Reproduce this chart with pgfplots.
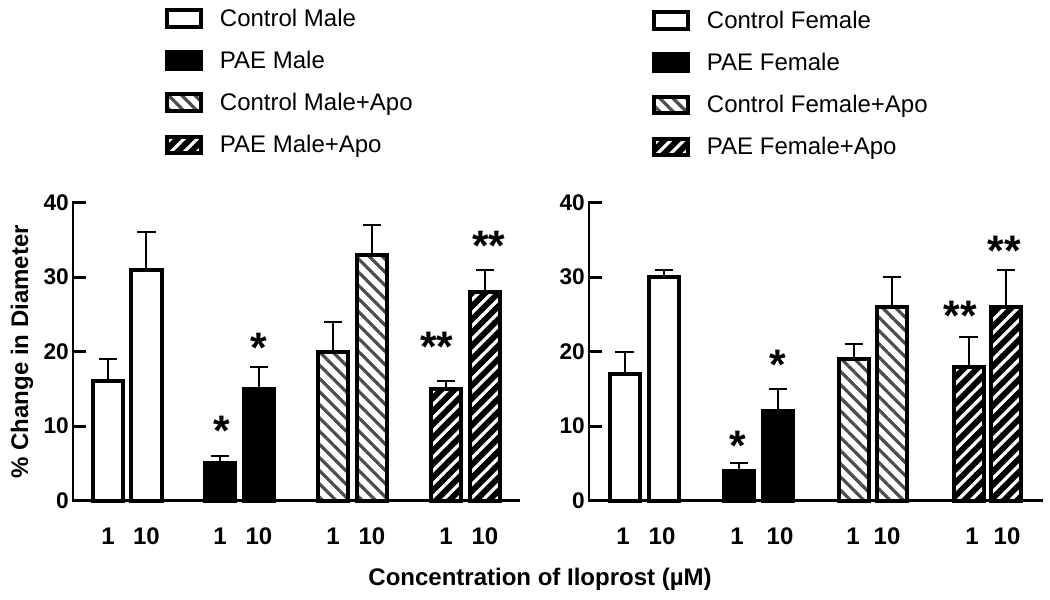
\documentclass[border=0pt]{standalone}
\usepackage{fontspec}
\setmainfont{Liberation Sans}
\usepackage{pgfplots}
\pgfplotsset{compat=1.18}
\usetikzlibrary{patterns.meta}

\tikzset{sigstar/.style={font=\fontsize{32}{32}\selectfont\bfseries, anchor=base, inner sep=0pt}}

\pgfplotsset{
  panel/.style={
    scale only axis, height=223.5pt, ymin=0, ymax=40,
    axis x line=bottom, axis y line=left,
    axis line style={-, line width=2.2pt, line cap=rect},
    ytick={0,10,20,30,40},
    ytick style={line width=2.2pt, black},
    tick align=inside, major tick length=10pt,
    xtick style={draw=none},
    yticklabel style={font=\fontsize{17}{17}\selectfont\bfseries, inner sep=0pt, xshift=-3pt},
    xticklabel style={font=\fontsize{18}{18}\selectfont\bfseries, anchor=center, yshift=-27pt},
    /pgf/number format/assume math mode=true,
    xticklabels={1,10,1,10,1,10,1,10},
    clip=false,
    legend cell align=left,
    legend style={draw=none, fill=none, inner sep=0pt, anchor=north west, row sep=16pt,
      font=\fontsize{18}{18}\selectfont, nodes={inner sep=0pt}},
  },
  bar base/.style={ybar, bar width=30, bar shift=0pt, draw=black, line width=3pt,
    legend image code/.code={\draw[##1] (0pt,-6.3pt) rectangle (25pt,6.3pt); \path (38pt,0pt);},
    /pgfplots/error bars/y dir=plus, /pgfplots/error bars/y explicit,
    /pgfplots/error bars/error bar style={line width=1.5pt, black},
    /pgfplots/error bars/error mark options={rotate=90, mark size=7pt, line width=1.5pt, black}},
  ctrl/.style={bar base, fill=white},
  pae/.style={bar base, fill=black},
  ctrlapo/.style={bar base, pattern={Lines[angle=-45,distance=7pt,line width=2.4pt]}, pattern color=black!70},
  paeapo/.style={bar base, preaction={fill=black}, pattern={Lines[angle=45,distance=7pt,line width=2.4pt]}, pattern color=white},
}

\begin{document}
\begin{tikzpicture}
\useasboundingbox (0,0) rectangle (787.5pt,-450pt);

% male panel
\begin{axis}[panel, at={(54.75pt,-375.5pt)}, anchor=south west,
  width=334.5pt, xmin=73, xmax=519,
  xtick={108,146.5,220,259,333,372,446,485},
  legend style={at={(axis description cs:0.2063,1.6534)}},
  xlabel={Concentration of Iloprost (µM)},
  xlabel style={at={(axis description cs:1.0471,-0.2862)}, anchor=base, font=\fontsize{18}{18}\selectfont\bfseries},
  ylabel={\% Change in Diameter},
  ylabel style={at={(axis description cs:-0.1143,0.5)}, anchor=center, font=\fontsize{18}{18}\selectfont\bfseries},
]
\addplot[ctrl] coordinates {(108,16) +- (0,3) (146.5,31) +- (0,5)};
\addplot[pae] coordinates {(220,5) +- (0,1) (259,15) +- (0,3)};
\addplot[ctrlapo] coordinates {(333,20) +- (0,4) (372,33) +- (0,4)};
\addplot[paeapo] coordinates {(446,15) +- (0,1) (485,28) +- (0,3)};
\legend{Control Male, PAE Male, Control Male+Apo, PAE Male+Apo}
\node[sigstar] at (axis cs:222,7.4) {*};
\node[sigstar] at (axis cs:259,18.6) {*};
\node[sigstar] at (axis cs:437,18.7) {**};
\node[sigstar] at (axis cs:489,32.2) {**};
\end{axis}

% female panel
\begin{axis}[panel, at={(441.75pt,-375.5pt)}, anchor=south west,
  width=339.75pt, xmin=589, xmax=1042,
  xtick={623,662,737,780,853,887,972,1007},
  legend style={at={(axis description cs:0.1391,1.6466)}},
]
\addplot[ctrl] coordinates {(624.5,17) +- (0,3) (664,30) +- (0,1)};
\addplot[pae] coordinates {(739,4) +- (0,1) (778,12) +- (0,3)};
\addplot[ctrlapo] coordinates {(854,19) +- (0,2) (892,26) +- (0,4)};
\addplot[paeapo] coordinates {(968.5,18) +- (0,4) (1006,26) +- (0,5)};
\legend{Control Female, PAE Female, Control Female+Apo, PAE Female+Apo}
\node[sigstar] at (axis cs:738,5.4) {*};
\node[sigstar] at (axis cs:778,16.3) {*};
\node[sigstar] at (axis cs:960,22.8) {**};
\node[sigstar] at (axis cs:1004,31.6) {**};
\end{axis}
\end{tikzpicture}
\end{document}
